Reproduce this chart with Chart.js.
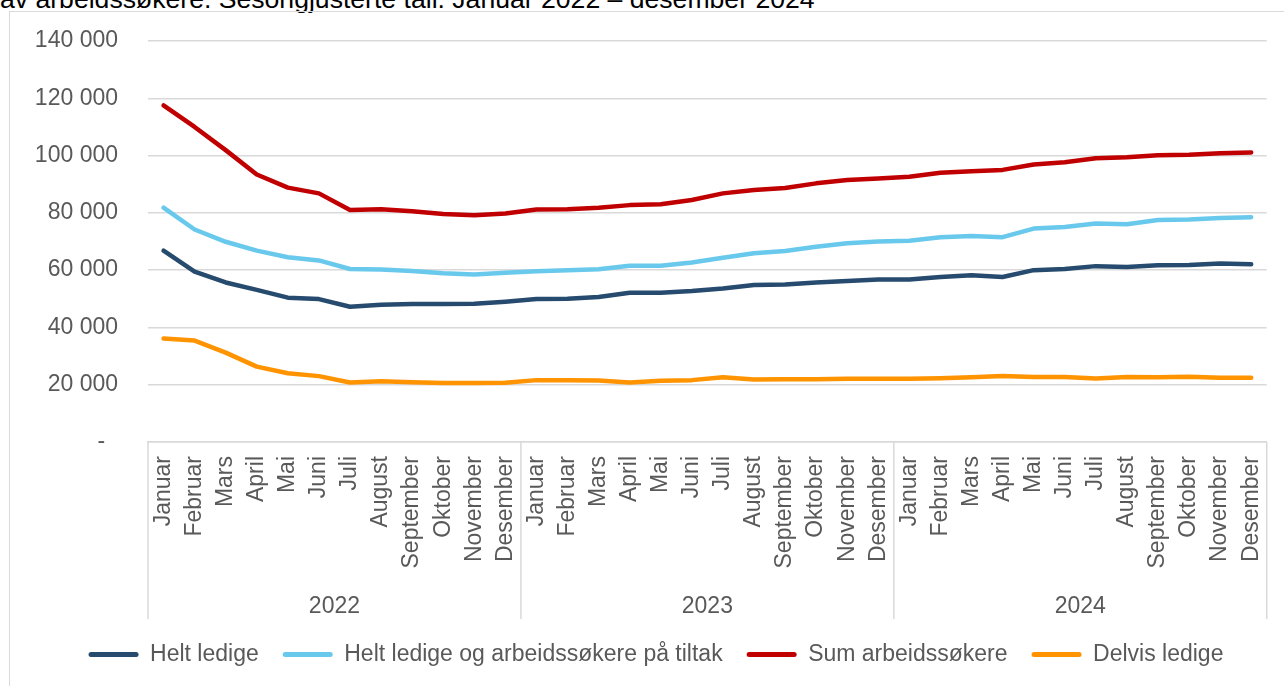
<!DOCTYPE html>
<html lang="no">
<head>
<meta charset="utf-8">
<title>Arbeidssøkere 2022–2024</title>
<script src="https://cdn.jsdelivr.net/npm/chart.js@4/dist/chart.umd.min.js"></script>
<style>
  html, body { margin: 0; padding: 0; background: #fff; overflow: hidden; }
  body { width: 1284px; height: 686px; position: relative; font-family: "Liberation Sans", Arial, sans-serif; }
  #title { position: absolute; left: 0; top: -14px; font-size: 26.6px; line-height: 26.6px; color: #000; white-space: nowrap; }
  #frame { position: absolute; left: 9px; top: 11px; width: 1285px; height: 700px; border: 1px solid #d9d9d9; box-sizing: border-box; }
</style>
</head>
<body>
<div id="title">av arbeidssøkere. Sesongjusterte tall. Januar 2022 – desember 2024</div>
<div id="frame"><canvas id="chart"></canvas></div>
<script>
// Månedlige tall, jan 2022 - des 2024
const years = ["2022", "2023", "2024"]
const monthNames = ["Januar", "Februar", "Mars", "April", "Mai", "Juni", "Juli", "August", "September", "Oktober", "November", "Desember"]
const months = [...monthNames, ...monthNames, ...monthNames]

const heltLedige = [
  66800, 59500, 55700, 53100, 50400, 49900, 47200, 47900, 48200, 48200, 48300, 49000,
  49900, 50000, 50600, 52100, 52100, 52700, 53600, 54800, 55000, 55700, 56200, 56700,
  56700, 57600, 58200, 57600, 60000, 60400, 61400, 61100, 61700, 61800, 62300, 62100
]
const heltLedigeTiltak = [
  81800, 74200, 69900, 66800, 64500, 63400, 60400, 60200, 59700, 58900, 58500, 59100,
  59600, 60000, 60300, 61500, 61500, 62700, 64300, 65900, 66700, 68200, 69400, 70000,
  70300, 71500, 71900, 71500, 74500, 75100, 76300, 76000, 77500, 77700, 78200, 78500
]
const sumArbeidssokere = [
  117500, 110000, 101900, 93400, 88800, 86800, 81000, 81300, 80600, 79600, 79200, 79800,
  81200, 81300, 81800, 82700, 83000, 84500, 86800, 88000, 88700, 90300, 91500, 92000,
  92600, 94000, 94500, 95000, 96900, 97700, 99100, 99400, 100100, 100300, 100800, 101100
]
const delvisLedige = [
  36100, 35400, 31200, 26300, 24000, 23000, 20800, 21200, 20900, 20600, 20600, 20700,
  21600, 21600, 21500, 20800, 21400, 21600, 22600, 21800, 21900, 21900, 22100, 22100,
  22100, 22300, 22600, 23000, 22700, 22700, 22200, 22700, 22600, 22800, 22400, 22400
]

const textColor = "#595959"
const gridColor = "#d9d9d9"

Chart.defaults.font.family = "'Liberation Sans', Arial, sans-serif"
Chart.defaults.font.size = 23
Chart.defaults.color = textColor

const fmt = v => v === 0 ? "-  " : String(v).replace(/\B(?=(\d{3})+(?!\d))/g, " ")

function line(label, data, color) {
  return {
    label: label,
    data: data,
    borderColor: color,
    backgroundColor: color,
    borderWidth: 4.5,
    borderCapStyle: "round",
    borderJoinStyle: "round",
    pointRadius: 0,
    pointHoverRadius: 0,
    tension: 0,
    fill: false
  }
}

// year separators below the axis, from month boundaries on the x scale
const yearSeparators = {
  id: "yearSeparators",
  afterDraw(chart) {
    const x = chart.scales.x
    const x2 = chart.scales.x2
    const half = (x.getPixelForValue(1) - x.getPixelForValue(0)) / 2
    const ctx = chart.ctx
    ctx.save()
    ctx.strokeStyle = gridColor
    ctx.lineWidth = 1.5
    for (let i = 0; i <= months.length; i += 12) {
      const px = i < months.length ? x.getPixelForValue(i) - half : x.getPixelForValue(i - 1) + half
      ctx.beginPath()
      ctx.moveTo(px, x.top)
      ctx.lineTo(px, x2.bottom)
      ctx.stroke()
    }
    ctx.restore()
  }
}

new Chart(document.getElementById("chart"), {
  type: "line",
  data: {
    labels: months,
    datasets: [
      line("Helt ledige", heltLedige, "#264b6e"),
      line("Helt ledige og arbeidssøkere på tiltak", heltLedigeTiltak, "#69c9ec"),
      line("Sum arbeidssøkere", sumArbeidssokere, "#c00000"),
      line("Delvis ledige", delvisLedige, "#ff9300")
    ]
  },
  options: {
    responsive: true,
    maintainAspectRatio: false,
    animation: false,
    layout: { padding: { left: 25, right: 16, top: 29, bottom: 34 } },
    scales: {
      y: {
        min: 0,
        max: 140000,
        // gap to the labels comes from an invisible tick, so it does not pad the top
        ticks: { stepSize: 20000, padding: 0, callback: v => fmt(v) },
        grid: { color: gridColor, lineWidth: 1.5, drawTicks: true, tickLength: 30, tickColor: "rgba(0,0,0,0)" },
        border: { display: false },
        afterFit: s => { s.width = 113 }
      },
      x: {
        offset: true,
        ticks: { minRotation: 90, maxRotation: 90, autoSkip: false, padding: 14 },
        grid: { display: false, drawTicks: false },
        border: { display: true, color: gridColor, width: 1.5 },
        afterFit: s => { s.height = 126 }
      },
      x2: {
        type: "category",
        labels: years,
        position: "bottom",
        offset: true,
        ticks: { maxRotation: 0, padding: 25 },
        grid: { display: false, drawTicks: false },
        border: { display: false },
        afterFit: s => { s.height = 51 }
      }
    },
    plugins: {
      legend: {
        position: "bottom",
        labels: {
          boxWidth: 50,
          boxHeight: 5,
          padding: 24,
          useBorderRadius: true,
          borderRadius: 2.5,
          generateLabels: chart => Chart.defaults.plugins.legend.labels.generateLabels(chart)
            .map(l => ({ ...l, lineWidth: 0, fillStyle: l.strokeStyle }))
        }
      },
      tooltip: { enabled: false }
    }
  },
  plugins: [yearSeparators]
})
</script>
</body>
</html>
